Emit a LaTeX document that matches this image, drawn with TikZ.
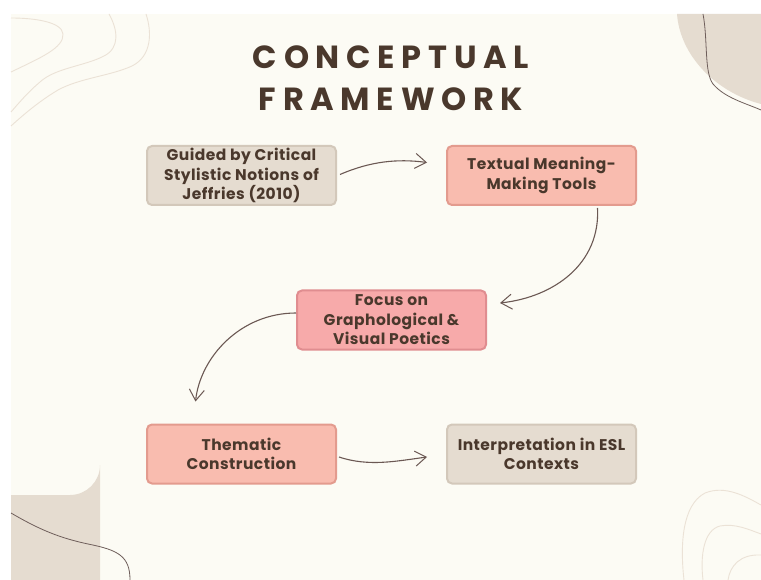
\documentclass[tikz,border=0pt]{standalone}
\usepackage{fontspec}
\setmainfont{Poppins}
\usetikzlibrary{arrows.meta,calc}

\definecolor{paper}{HTML}{FCFBF4}
\definecolor{sand}{HTML}{E5DCD0}
\definecolor{sandline}{HTML}{D3C8BA}
\definecolor{salmon}{HTML}{F9BCAF}
\definecolor{salmonline}{HTML}{E39B8E}
\definecolor{rose}{HTML}{F7AAAA}
\definecolor{roseline}{HTML}{E08D90}
\definecolor{ink}{HTML}{4A382C}
\definecolor{arrowink}{HTML}{6B5853}
\definecolor{contour}{HTML}{EBE2D6}
\definecolor{blobline}{HTML}{6E5E5A}

\tikzset{
  box/.style={rounded corners=5pt, line width=2pt, minimum width=189pt,
    minimum height=59pt, align=center, text=ink,
    font=\fontsize{15.5}{19.5}\selectfont\bfseries\addfontfeatures{LetterSpace=3}, inner sep=0pt},
  greybox/.style={box, fill=sand, draw=sandline},
  salmonbox/.style={box, fill=salmon, draw=salmonline},
  rosebox/.style={box, fill=rose, draw=roseline},
  flow/.style={draw=arrowink, line width=1.1pt,
    -{Straight Barb[length=11pt,width=15pt,line width=1pt]}},
  contourline/.style={draw=contour, line width=0.9pt},
  title/.style={text=ink, font=\fontsize{32}{38}\selectfont\bfseries\addfontfeatures{LetterSpace=21}}
}

\begin{document}
\begin{tikzpicture}[x=1pt,y=-1pt]
  \useasboundingbox (0,0) rectangle (761,580);
  % page and sheet
  \fill[white] (0,0) rectangle (761,580);
  \fill[paper] (11,14) rectangle (761,580);

  % corner ornaments
  \fill[sand] (677,14) .. controls (680,55) and (715,92) .. (761,104) -- (761,14) -- cycle;
  \draw[blobline, line width=0.8pt] (703,14) .. controls (708,40) and (704,72) .. (713,84)
      .. controls (725,98) and (745,103) .. (761,110);
  \fill[sand] (11,495) -- (70,495) arc[start angle=90, end angle=0, radius=30] -- (100,580) -- (11,580) -- cycle;
  \draw[blobline, line width=0.8pt] (11,513) .. controls (40,530) and (60,538) .. (88,544)
      .. controls (118,550) and (130,556) .. (130,580);

  % contour lines, top left
  \draw[contourline] (11,18) .. controls (35,18) and (62,22) .. (63,34)
      .. controls (64,48) and (40,58) .. (11,72);
  \draw[contourline] (109,14) .. controls (118,30) and (120,48) .. (104,56)
      .. controls (85,66) and (55,68) .. (40,82) .. controls (28,92) and (18,104) .. (11,112);
  \draw[contourline] (146,14) .. controls (152,32) and (152,56) .. (132,66)
      .. controls (110,76) and (80,78) .. (58,90) .. controls (38,102) and (22,116) .. (11,126);
  % contour lines, bottom right
  \draw[contourline] (684,580) .. controls (680,545) and (682,505) .. (705,493)
      .. controls (725,485) and (745,496) .. (761,505);
  \draw[contourline] (703,580) .. controls (700,555) and (704,530) .. (720,526)
      .. controls (735,523) and (750,530) .. (761,534);
  \draw[contourline] (728,580) .. controls (730,566) and (740,554) .. (761,555);

  % title
  \node[title] (t1) at (391,57) {CONCEPTUAL};
  \node[title] (t2) at (391,99) {FRAMEWORK};

  % steps
  \node[greybox]   (b1) at (241.5,175.5) {Guided by Critical\\Stylistic Notions of\\Jeffries (2010)};
  \node[salmonbox] (b2) at (541.5,175.5) {Textual Meaning-\\Making Tools};
  \node[rosebox]   (b3) at (391.5,320)   {Focus on\\Graphological \&\\Visual Poetics};
  \node[salmonbox] (b4) at (241.5,454)   {Thematic\\Construction};
  \node[greybox]   (b5) at (541.5,454)   {Interpretation in ESL\\Contexts};

  % connectors
  \draw[flow] ($(b1.east)+(3,-1)$) .. controls +(30,-13) and +(-30,-4) .. ($(b2.west)+(-19,-13)$);
  \draw[flow] ($(b2.south)+(56,2)$) .. controls +(3,55) and +(55,-6) .. ($(b3.east)+(13,-17)$);
  \draw[flow] ($(b3.west)+(0,-7)$) .. controls +(-55,0) and +(5,-45) .. ($(b4.north)+(-46,-22)$);
  \draw[flow] ($(b4.east)+(2,3)$) .. controls +(30,10) and +(-30,4) .. ($(b5.west)+(-19,3)$);
\end{tikzpicture}
\end{document}
